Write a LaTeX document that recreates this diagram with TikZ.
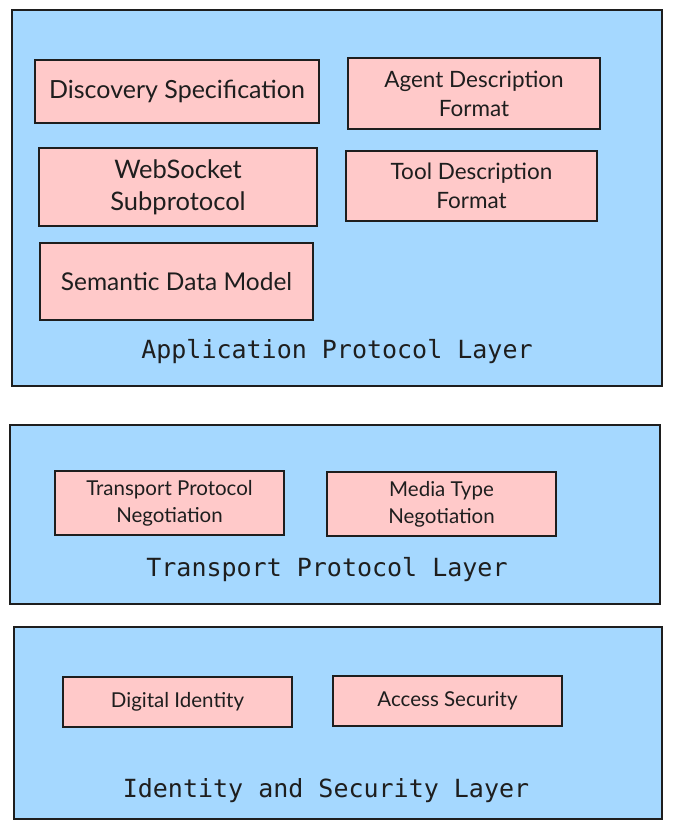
\documentclass[tikz,border=0pt]{standalone}
\usepackage{fontspec}
\setmainfont{Lato}
\newfontfamily\titlefont{DejaVu Sans Mono}
\usepackage{tikz}
\usetikzlibrary{positioning}
\definecolor{layerblue}{HTML}{A5D8FF}
\definecolor{comppink}{HTML}{FFC9C9}
\definecolor{inkline}{HTML}{1E1E1E}
\tikzset{layer/.style={draw=inkline,line width=1.6pt,fill=layerblue},
         comp/.style={draw=inkline,line width=1.6pt,fill=comppink,align=center,inner sep=0pt,text=inkline},
         layertitle/.style={font=\titlefont\fontsize{25}{30}\selectfont,text=inkline,inner sep=0pt}}

\begin{document}
\begin{tikzpicture}[x=1pt,y=-1pt]
            \useasboundingbox (0,0) rectangle (672,829);

            % layers
            \draw[layer] (12,10)  rectangle (662,386);
            \draw[layer] (10,425) rectangle (660,604);
            \draw[layer] (14,627) rectangle (662,819);

            % application protocol layer
            \node[comp,minimum width=284pt,minimum height=63pt,font=\fontsize{25}{27}\selectfont]  (disc)  at (177,91.5)  {Discovery Specification};
            \node[comp,minimum width=252pt,minimum height=71pt,font=\fontsize{22.5}{29}\selectfont]  (agent) at (474,93.5)  {Agent Description\\Format};
            \node[comp,minimum width=278pt,minimum height=78pt,font=\fontsize{25.5}{32}\selectfont]  (ws)    at (178,187)   {WebSocket\\Subprotocol};
            \node[comp,minimum width=251pt,minimum height=70pt,font=\fontsize{22.5}{29}\selectfont]  (tool)  at (471.5,186) {Tool Description\\Format};
            \node[comp,minimum width=273pt,minimum height=77pt,font=\fontsize{24.5}{26}\selectfont]  (sem)   at (176.5,281.5) {Semantic Data Model};
            \node[layertitle] (app) at (337,352) {Application Protocol Layer};

            % transport protocol layer
            \node[comp,minimum width=229pt,minimum height=64pt,font=\fontsize{20.5}{27}\selectfont] (tpn) at (169.5,503) {Transport Protocol\\Negotiation};
            \node[comp,minimum width=229pt,minimum height=64pt,font=\fontsize{20.5}{27}\selectfont] (mtn) at (441.5,504) {Media Type\\Negotiation};
            \node[layertitle] (trans) at (327,570) {Transport Protocol Layer};

            % identity and security layer
            \node[comp,minimum width=229pt,minimum height=50pt,font=\fontsize{20.5}{22}\selectfont] (ident)  at (177.5,702) {Digital Identity};
            \node[comp,minimum width=229pt,minimum height=50pt,font=\fontsize{20.5}{22}\selectfont] (access) at (447.5,701) {Access Security};
            \node[layertitle] (idsec) at (326,791) {Identity and Security Layer};
        \end{tikzpicture}
\end{document}
